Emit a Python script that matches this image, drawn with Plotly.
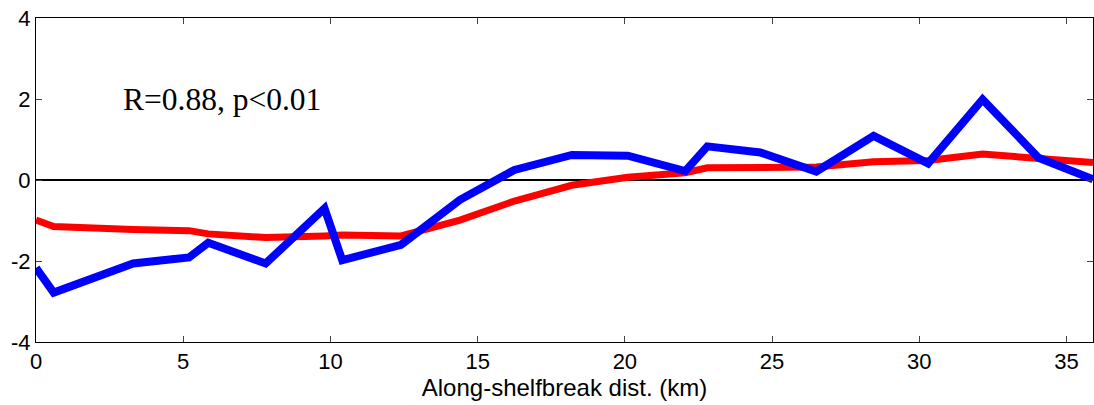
import plotly.graph_objects as go

dist_km = [0, 0.6, 3.3, 5.2, 5.85, 7.8, 9.8, 10.4, 12.4, 14.4, 16.25, 18.2,
           20.1, 22.05, 22.8, 24.6, 26.5, 28.45, 30.3, 32.15, 34.05, 35.9]
blue_vals = [-2.17, -2.78, -2.06, -1.91, -1.55, -2.06, -0.70, -1.98, -1.60, -0.49,
             0.25, 0.62, 0.60, 0.22, 0.83, 0.68, 0.21, 1.09, 0.41, 1.99, 0.55, 0.02]
red_vals = [-0.99, -1.15, -1.22, -1.25, -1.33, -1.42, -1.38, -1.36, -1.38, -0.99,
            -0.52, -0.13, 0.07, 0.18, 0.30, 0.31, 0.32, 0.45, 0.48, 0.64, 0.52, 0.43]
x_ticks = [0, 5, 10, 15, 20, 25, 30, 35]
y_ticks = [-4, -2, 0, 2, 4]
y_tick_text = ["-4", "-2", "0", "2", "4"]
annot_text = "R=0.88, p<0.01"
x_title = "Along-shelfbreak dist. (km)"

sans = "Liberation Sans, Arial, sans-serif"

fig = go.Figure()
fig.add_trace(go.Scatter(x=dist_km, y=red_vals, mode="lines",
                         line=dict(color="#ff0000", width=7), showlegend=False))
fig.add_trace(go.Scatter(x=dist_km, y=blue_vals, mode="lines",
                         line=dict(color="#0000ff", width=8), showlegend=False))

fig.add_annotation(x=2.87, y=2.0, xref="x", yref="y", text=annot_text,
                   showarrow=False, xanchor="left", yanchor="middle",
                   font=dict(family="Liberation Serif, Times New Roman, serif", size=31.5, color="black"))

axis_common = dict(showgrid=False, showline=True, linecolor="black", linewidth=1,
                   mirror="allticks", ticks="inside", ticklen=6, tickcolor="#444",
                   automargin=False,
                   tickfont=dict(family=sans, size=22, color="black"))

fig.update_xaxes(range=[0, 35.9], tickvals=x_ticks, zeroline=False,
                 title=dict(text=x_title, standoff=0,
                            font=dict(family=sans, size=24, color="black")),
                 **axis_common)
fig.update_yaxes(range=[-4, 4], tickvals=y_ticks, ticktext=y_tick_text, zeroline=True,
                 zerolinecolor="black", zerolinewidth=2, ticklabelstandoff=0, **axis_common)

fig.update_layout(width=1094, height=405, margin=dict(l=36, r=1, t=18, b=63),
                  plot_bgcolor="white", paper_bgcolor="white")

fig.write_html("out.html", config={"displayModeBar": False},
               post_script="document.body.style.margin='0';document.body.style.overflow='hidden';")
